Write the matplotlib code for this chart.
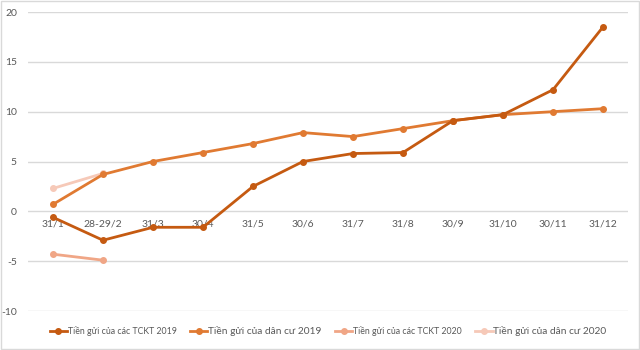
import matplotlib.pyplot as plt
import numpy as np

plt.rcParams['font.family'] = ['Lato', 'DejaVu Sans']

# Categories (end-of-month dates)
dates = ['31/1', '28-29/2', '31/3', '30/4', '31/5', '30/6',
         '31/7', '31/8', '30/9', '31/10', '30/11', '31/12']

# Growth since start of year (%)
tckt_2019 = [-0.6, -2.9, -1.6, -1.6, 2.5, 5.0, 5.8, 5.9, 9.1, 9.7, 12.2, 18.5]
dancu_2019 = [0.7, 3.7, 5.0, 5.9, 6.8, 7.9, 7.5, 8.3, 9.1, 9.7, 10.0, 10.3]
tckt_2020 = [-4.3, -4.9]
dancu_2020 = [2.3, 3.8]

x = np.arange(len(dates))

fig = plt.figure(figsize=(6.4, 3.5), dpi=100)
ax = fig.add_axes([0.04375, 0.1114, 0.9375, 0.8543])

ax.plot(x, tckt_2019, color='#C55A11', lw=2, marker='o', ms=4, label='Tiền gửi của các TCKT 2019', zorder=4)
ax.plot(x, dancu_2019, color='#E07A32', lw=2, marker='o', ms=4, label='Tiền gửi của dân cư 2019', zorder=3)
ax.plot(x[:2], tckt_2020, color='#F0A686', lw=2, marker='o', ms=4, label='Tiền gửi của các TCKT 2020', zorder=2)
ax.plot(x[:2], dancu_2020, color='#F6C9B8', lw=2, marker='o', ms=4, label='Tiền gửi của dân cư 2020', zorder=2)

ax.set_xlim(-0.5, len(dates) - 0.5)
ax.set_ylim(-10, 20)
ax.set_yticks([-10, -5, 0, 5, 10, 15, 20])
ax.set_yticklabels(['-10', '-5', '0', '5', '10', '15', '20'])
ax.grid(axis='y', color='#D9D9D9', lw=1)
ax.set_axisbelow(True)

# category labels sit just under the zero line
ax.spines['bottom'].set_position(('data', 0))
for s in ['top', 'right', 'left', 'bottom']:
    ax.spines[s].set_visible(False)
ax.set_xticks(x)
ax.set_xticklabels(dates)
ax.tick_params(axis='both', length=0, labelsize=7.5, labelcolor='#595959')
ax.tick_params(axis='x', pad=6)
ax.tick_params(axis='y', pad=8)

leg = ax.legend(loc='center', bbox_to_anchor=(0.5, -0.067), ncol=4, frameon=False,
                handlelength=2, handletextpad=0.1, columnspacing=1.5, fontsize=6.3)
sizes = [6.3, 7.3, 6.3, 7.3]
for t, s in zip(leg.get_texts(), sizes):
    t.set_fontsize(s)
    t.set_color('#595959')

# thin border around the chart area
fig.patches.append(plt.Rectangle((0.001, 0.002), 0.997, 0.995, transform=fig.transFigure,
                                 fill=False, edgecolor='#D9D9D9', lw=1))

fig.savefig('out.png', dpi=100)
